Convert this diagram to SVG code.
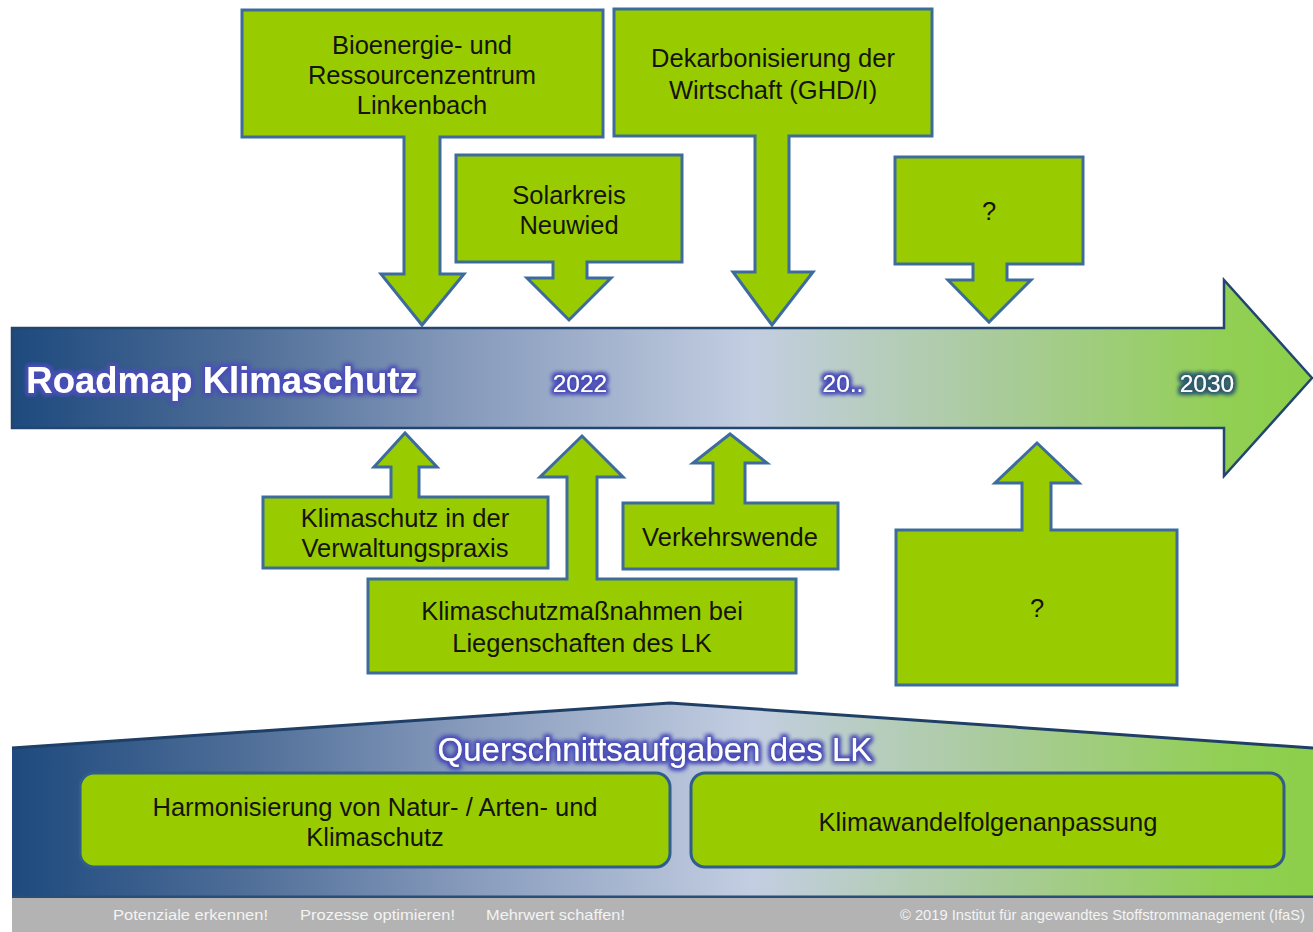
<svg xmlns="http://www.w3.org/2000/svg" width="1313" height="932" viewBox="0 0 1313 932">
<defs>
  <linearGradient id="band" gradientUnits="userSpaceOnUse" x1="12" y1="0" x2="1313" y2="0">
    <stop offset="0" stop-color="#1E4A7E"/>
    <stop offset="0.18" stop-color="#4F6E98"/>
    <stop offset="0.36" stop-color="#8A9DBE"/>
    <stop offset="0.57" stop-color="#C3CEE1"/>
    <stop offset="0.76" stop-color="#A9CB9A"/>
    <stop offset="0.93" stop-color="#92CF55"/>
    <stop offset="1" stop-color="#8CCF4A"/>
  </linearGradient>
  <filter id="glow" x="-10%" y="-30%" width="120%" height="160%">
    <feMorphology in="SourceAlpha" operator="dilate" radius="1.5" result="d"/>
    <feGaussianBlur in="d" stdDeviation="2" result="b"/>
    <feFlood flood-color="#4B4FB8"/>
    <feComposite in2="b" operator="in" result="g"/>
    <feMerge><feMergeNode in="g"/><feMergeNode in="g"/><feMergeNode in="SourceGraphic"/></feMerge>
  </filter>
  <filter id="glowDark" x="-10%" y="-30%" width="120%" height="160%">
    <feMorphology in="SourceAlpha" operator="dilate" radius="1.5" result="d"/>
    <feGaussianBlur in="d" stdDeviation="2" result="b"/>
    <feFlood flood-color="#2F5C6E"/>
    <feComposite in2="b" operator="in" result="g"/>
    <feMerge><feMergeNode in="g"/><feMergeNode in="g"/><feMergeNode in="SourceGraphic"/></feMerge>
  </filter>
</defs>
<style>
  .callout { fill: #99CC00; stroke: #3D6C9C; stroke-width: 3; stroke-linejoin: miter; }
  .rbox { fill: #99CC00; stroke: #2F5D8C; stroke-width: 3; }
  .t { font-family: "Liberation Sans", Arial, sans-serif; font-size: 25.5px; fill: #141408; text-anchor: middle; }
  .w { font-family: "Liberation Sans", Arial, sans-serif; fill: #FFFFFF; text-anchor: middle; }
  .foot { font-family: "Liberation Sans", Arial, sans-serif; font-size: 15px; fill: #F4F4F4; }
</style>
<rect x="0" y="0" width="1313" height="932" fill="#FFFFFF"/>

<g id="timeline">
  <path d="M12,328 H1224 V280 L1312,378 L1224,476 V428 H12 Z" fill="url(#band)" stroke="#23466F" stroke-width="2.5"/>
  <text class="w" x="222" y="393" font-size="36.5" font-weight="bold" filter="url(#glow)">Roadmap Klimaschutz</text>
  <text class="w" x="580" y="392" font-size="24.5" filter="url(#glow)">2022</text>
  <text class="w" x="843" y="392" font-size="24.5" filter="url(#glow)">20..</text>
  <text class="w" x="1207" y="392" font-size="24.5" filter="url(#glowDark)">2030</text>
</g>

<g id="cross-section">
  <path d="M12,748 L670,703 L1313,748 V897 H12 Z" fill="url(#band)"/>
  <path d="M12,748 L670,703 L1313,748" fill="none" stroke="#1F3F66" stroke-width="3"/>
  <line x1="12" y1="897" x2="1313" y2="897" stroke="#2A4E78" stroke-width="3"/>
  <text class="w" x="655" y="761" font-size="33" filter="url(#glow)">Querschnittsaufgaben des LK</text>
</g>

<g id="footer">
  <rect x="12" y="898" width="1301" height="34" fill="#B3B3B3"/>
  <text class="foot" x="113" y="920" textLength="155" lengthAdjust="spacingAndGlyphs">Potenziale erkennen!</text>
  <text class="foot" x="300" y="920" textLength="155" lengthAdjust="spacingAndGlyphs">Prozesse optimieren!</text>
  <text class="foot" x="486" y="920" textLength="139" lengthAdjust="spacingAndGlyphs">Mehrwert schaffen!</text>
  <text class="foot" x="900" y="920" textLength="405" lengthAdjust="spacingAndGlyphs">© 2019 Institut für angewandtes Stoffstrommanagement (IfaS)</text>
</g>

<g id="connectors"></g>

<g id="node-bioenergie">
  <path class="callout" d="M242,10 H603 V137 H440 V274 H464 L422,325 L381,274 H404 V137 H242 Z"/>
  <text class="t" x="422" y="54">Bioenergie- und</text>
  <text class="t" x="422" y="84">Ressourcenzentrum</text>
  <text class="t" x="422" y="114">Linkenbach</text>
</g>

<g id="node-solarkreis">
  <path class="callout" d="M456,155 H682 V262 H587 V278 H611 L569,320 L527,278 H553 V262 H456 Z"/>
  <text class="t" x="569" y="204">Solarkreis</text>
  <text class="t" x="569" y="234">Neuwied</text>
</g>

<g id="node-dekarbonisierung">
  <path class="callout" d="M614,9 H932 V136 H789 V272 H813 L772,325 L733,272 H755 V136 H614 Z"/>
  <text class="t" x="773" y="67">Dekarbonisierung der</text>
  <text class="t" x="773" y="99">Wirtschaft (GHD/I)</text>
</g>

<g id="node-q-top">
  <path class="callout" d="M895,157 H1083 V264 H1007 V280 H1031 L989,322 L948,280 H973 V264 H895 Z"/>
  <text class="t" x="989" y="220">?</text>
</g>

<g id="node-verwaltung">
  <path class="callout" d="M263,497 H391 V467 H374 L405,433 L437,467 H419 V497 H548 V568 H263 Z"/>
  <text class="t" x="405" y="527">Klimaschutz in der</text>
  <text class="t" x="405" y="557">Verwaltungspraxis</text>
</g>

<g id="node-liegenschaften">
  <path class="callout" d="M368,579 H567 V477 H540 L582,436 L623,477 H597 V579 H796 V673 H368 Z"/>
  <text class="t" x="582" y="620">Klimaschutzmaßnahmen bei</text>
  <text class="t" x="582" y="652">Liegenschaften des LK</text>
</g>

<g id="node-verkehr">
  <path class="callout" d="M623,503 H713 V463 H693 L730,434 L767,463 H745 V503 H838 V569 H623 Z"/>
  <text class="t" x="730" y="546">Verkehrswende</text>
</g>

<g id="node-q-bottom">
  <path class="callout" d="M896,530 H1022 V483 H995 L1037,443 L1079,483 H1051 V530 H1177 V685 H896 Z"/>
  <text class="t" x="1037" y="617">?</text>
</g>

<g id="node-harmonisierung">
  <rect class="rbox" x="80" y="773" width="590" height="94" rx="14"/>
  <text class="t" x="375" y="816">Harmonisierung von Natur- / Arten- und</text>
  <text class="t" x="375" y="846">Klimaschutz</text>
</g>

<g id="node-klimawandel">
  <rect class="rbox" x="691" y="773" width="593" height="94" rx="14"/>
  <text class="t" x="988" y="831">Klimawandelfolgenanpassung</text>
</g>
</svg>
